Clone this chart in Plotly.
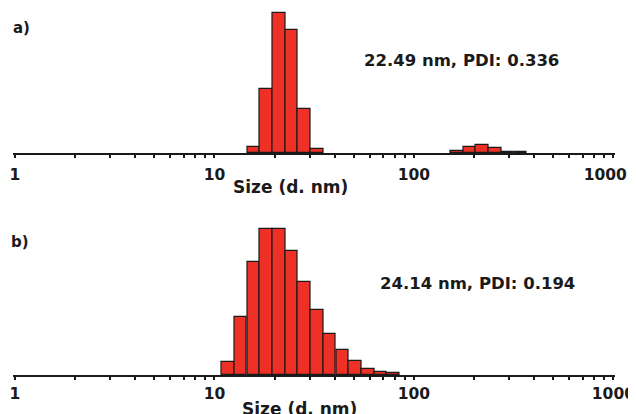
import numpy as np
import plotly.graph_objects as go

# ---- data ----
sizes_a = [15.69, 18.17, 21.04, 24.36, 28.21, 32.67, 164.2, 190.1, 220.2, 255.0, 295.3, 342.0]
intensity_a = [1.5, 16.0, 35.0, 30.7, 11.0, 1.0, 0.4, 1.4, 1.9, 1.15, 0.25, 0.2]

sizes_b = [11.70, 13.54, 15.69, 18.17, 21.04, 24.36, 28.21, 32.67, 37.84, 43.82, 50.75, 58.77, 68.06, 78.82]
intensity_b = [1.5, 6.8, 13.3, 17.2, 17.2, 14.6, 11.0, 7.7, 4.8, 2.9, 1.7, 0.75, 0.35, 0.18]

major_vals = [1, 10, 100, 1000]
major_text_a = ["1", "10", "100", "1000\u00a0\u00a0\u00a0"]
major_text_b = ["1", "10", "100", "1000"]
minor_vals = [m * d for d in (1, 10, 100) for m in range(2, 10)]

label_a = "a)"
label_b = "b)"
note_a = "22.49 nm, PDI: 0.336"
note_b = "24.14 nm, PDI: 0.194"
axis_title = "Size (d. nm)"

# ---- styles ----
W, H = 636, 414
OFF = 8  # page body margin offset
BAR = "#EE3026"
INK = "#1a1a1a"
FONT = "DejaVu Sans"

def fx(px):
    return (px - OFF) / W

def fy(py):
    return (H - (py - OFF)) / H

fig = go.Figure()

def add_bars(sizes, vals, xa, ya):
    xs = np.log10(sizes)
    width = float(np.log10(sizes[1] / sizes[0]))
    fig.add_trace(go.Bar(
        x=xs, y=vals, width=width, xaxis=xa, yaxis=ya,
        marker=dict(color=BAR, line=dict(color=INK, width=1.2)),
        hoverinfo="skip", showlegend=False,
    ))

add_bars(sizes_a, intensity_a, "x", "y")
add_bars(sizes_b, intensity_b, "x2", "y2")

xdom = [fx(12.6), fx(615)]
xrng = [-0.012, 3.008]
tv = list(np.log10(major_vals))
mv = list(np.log10(minor_vals))

def xaxis_main(anchor, standoff, ticktext):
    return dict(
        domain=xdom, range=xrng, anchor=anchor, fixedrange=True, automargin=False,
        showgrid=False, zeroline=False,
        showline=True, linecolor=INK, linewidth=2,
        tickmode="array", tickvals=tv, ticktext=ticktext,
        ticks="outside", ticklen=3, tickwidth=1.5, tickcolor=INK,
        ticklabelstandoff=standoff,
        tickfont=dict(family=FONT, size=15.5, color=INK, weight="bold"),
        minor=dict(tickmode="array", tickvals=mv, ticks="outside",
                   ticklen=3, tickwidth=1.5, tickcolor=INK, showgrid=False),
    )

def xaxis_over(over, anchor):
    return dict(
        domain=xdom, range=xrng, anchor=anchor, overlaying=over, fixedrange=True,
        automargin=False,
        showgrid=False, zeroline=False, showline=False, showticklabels=False,
        tickmode="array", tickvals=tv,
        ticks="inside", ticklen=3, tickwidth=1.5, tickcolor=INK,
        minor=dict(tickmode="array", tickvals=mv, ticks="inside",
                   ticklen=3, tickwidth=1.5, tickcolor=INK, showgrid=False),
    )

def yaxis(dom, top):
    return dict(domain=dom, range=[0, top], visible=False, fixedrange=True,
                automargin=False, showgrid=False, zeroline=False)

fig.update_layout(
    width=W, height=H,
    margin=dict(l=0, r=0, t=0, b=0, autoexpand=False),
    paper_bgcolor="white", plot_bgcolor="white",
    bargap=0, showlegend=False,
    xaxis=xaxis_main("y", 3, major_text_a),
    xaxis2=xaxis_main("y2", 0, major_text_b),
    xaxis3=xaxis_over("x", "y"),
    xaxis4=xaxis_over("x2", "y2"),
    yaxis=yaxis([fy(153), fy(9)], 36.0),
    yaxis2=yaxis([fy(375), fy(225)], 17.71),
)

def ann(text, xpx, ypx, size):
    fig.add_annotation(
        text=text, xref="paper", yref="paper",
        x=fx(xpx), y=fy(ypx), xanchor="center", yanchor="middle",
        showarrow=False,
        font=dict(family=FONT, size=size, color=INK, weight="bold"),
    )

ann(label_a, 21, 28, 15)
ann(label_b, 20, 242, 15)
ann(note_a, 462, 60, 16.5)
ann(note_b, 477, 283, 16.5)
ann(axis_title, 290, 187, 17)
ann(axis_title, 299, 409, 17)

fig.write_html("out.html")
